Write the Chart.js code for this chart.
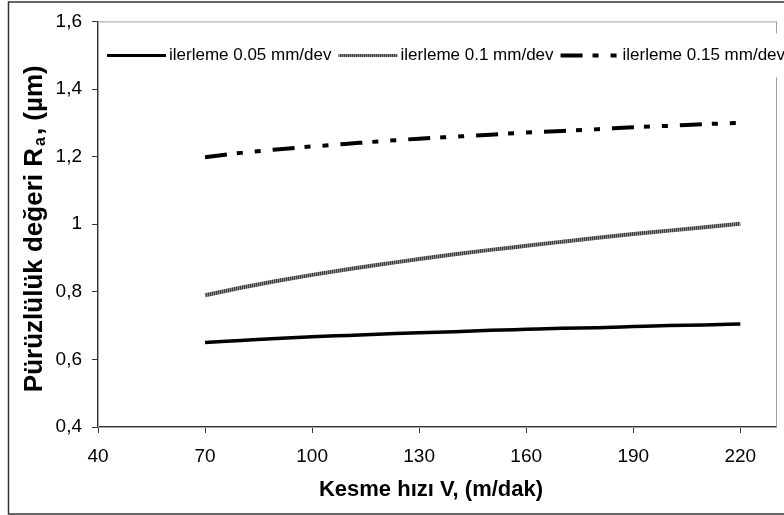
<!DOCTYPE html>
<html>
<head>
<meta charset="utf-8">
<script src="https://cdn.jsdelivr.net/npm/chart.js@4.4.1/dist/chart.umd.min.js"></script>
<style>
  html, body { margin: 0; padding: 0; background: #fff; }
  #wrap { width: 784px; height: 515px; }
</style>
</head>
<body>
<div id="wrap"><canvas id="roughChart"></canvas></div>
<script>
// values
const speeds = [70, 80, 90, 100, 110, 120, 130, 140, 150, 160, 170, 180, 190, 200, 210, 220];
const feed005 = [0.650, 0.656, 0.662, 0.667, 0.671, 0.675, 0.679, 0.682, 0.686, 0.689, 0.692, 0.694, 0.697, 0.700, 0.702, 0.705];
const feed010 = [0.790, 0.812, 0.832, 0.850, 0.867, 0.882, 0.897, 0.911, 0.924, 0.936, 0.948, 0.960, 0.971, 0.981, 0.991, 1.001];
const feed015 = [1.198, 1.211, 1.221, 1.230, 1.238, 1.246, 1.253, 1.259, 1.265, 1.271, 1.276, 1.281, 1.287, 1.291, 1.296, 1.300];
const seriesLabels = ["ilerleme 0.05 mm/dev", "ilerleme 0.1 mm/dev", "ilerleme 0.15 mm/dev"];
const xTicks = [40, 70, 100, 130, 160, 190, 220];
const yTicks = [0.4, 0.6, 0.8, 1, 1.2, 1.4, 1.6];
const xTitle = "Kesme hızı V, (m/dak)";
const yTitle = ["Pürüzlülük değeri R", "a", ", (µm)"]; // "a" is the subscript

document.addEventListener("DOMContentLoaded", function () {
  const canvas = document.getElementById("roughChart");
  const ctx = canvas.getContext("2d");

  // striped grey like the reference's middle line
  const stripe = document.createElement("canvas");
  stripe.width = 2;
  stripe.height = 2;
  const sctx = stripe.getContext("2d");
  sctx.fillStyle = "#3c3c3c";
  sctx.fillRect(0, 0, 1, 2);
  sctx.fillStyle = "#8c8c8c";
  sctx.fillRect(1, 0, 1, 2);
  const greyStripe = ctx.createPattern(stripe, "repeat");

  const toPoints = (ys) => speeds.map((x, i) => ({ x: x, y: ys[i] }));
  const fontFamily = "'Liberation Sans', Arial, sans-serif";

  // plot frame, outer frame, axis titles and the legend inside the plot
  const framePlugin = {
    id: "frames",
    beforeDatasetsDraw(chart) {
      const a = chart.chartArea;
      const c = chart.ctx;
      c.save();
      c.strokeStyle = "#a0a0a0";
      c.lineWidth = 1;
      c.strokeRect(a.left + 0.5, a.top + 0.5, a.right - a.left, a.bottom - a.top);
      c.restore();
    },
    afterDraw(chart) {
      const a = chart.chartArea;
      const c = chart.ctx;
      c.save();
      // outer chart border
      c.strokeStyle = "#333";
      c.lineWidth = 1.5;
      c.strokeRect(8.5, 2, chart.width + 10, chart.height - 3);

      // x title
      c.fillStyle = "#000";
      c.textBaseline = "middle";
      c.textAlign = "center";
      c.font = "bold 22px " + fontFamily;
      c.fillText(xTitle, (a.left + a.right) / 2 - 6, 490);

      // y title, rotated, with subscript
      c.save();
      c.translate(35, (a.top + a.bottom) / 2 + 5);
      c.rotate(-Math.PI / 2);
      c.textAlign = "left";
      c.textBaseline = "middle";
      const big = "bold 26px " + fontFamily;
      const small = "bold 16px " + fontFamily;
      c.font = big;
      const w0 = c.measureText(yTitle[0]).width;
      const w2 = c.measureText(yTitle[2]).width;
      c.font = small;
      const w1 = c.measureText(yTitle[1]).width + 3;
      let tx = -(w0 + w1 + w2) / 2;
      c.font = big;
      c.fillText(yTitle[0], tx, 0);
      tx += w0 + 2;
      c.font = small;
      c.fillText(yTitle[1], tx, 6);
      tx += w1 - 1;
      c.font = big;
      c.fillText(yTitle[2], tx, 0);
      c.restore();

      // legend
      const cy = a.top + 34;
      c.fillStyle = "#fff";
      c.fillRect(a.left + 3, a.top + 12, chart.width - a.left, 44);
      c.font = "17px " + fontFamily;
      c.textAlign = "left";
      c.textBaseline = "middle";
      let x = a.left + 9;
      chart.data.datasets.forEach((ds) => {
        c.beginPath();
        c.strokeStyle = ds.borderColor;
        c.lineWidth = ds.legendWidth;
        c.setLineDash(ds.borderDash || []);
        c.moveTo(x, cy);
        c.lineTo(x + 59, cy);
        c.stroke();
        c.setLineDash([]);
        c.fillStyle = "#000";
        c.fillText(ds.label, x + 62, cy);
        x += 62 + c.measureText(ds.label).width + 7;
      });
      c.restore();
    },
  };

  new Chart(canvas, {
    type: "line",
    data: {
      datasets: [
        {
          label: seriesLabels[0],
          data: toPoints(feed005),
          borderColor: "#000",
          borderWidth: 3.5,
          legendWidth: 3,
        },
        {
          label: seriesLabels[1],
          data: toPoints(feed010),
          borderColor: greyStripe,
          borderWidth: 4,
          legendWidth: 3,
        },
        {
          label: seriesLabels[2],
          data: toPoints(feed015),
          borderColor: "#000",
          borderWidth: 4,
          legendWidth: 4,
          borderDash: [22, 10, 6, 12, 6, 12],
        },
      ],
    },
    options: {
      responsive: true,
      maintainAspectRatio: false,
      animation: false,
      layout: { padding: { top: 20, right: 8, left: 0, bottom: 0 } },
      elements: {
        point: { radius: 0 },
        line: { tension: 0.4, cubicInterpolationMode: "monotone", fill: false },
      },
      plugins: {
        legend: { display: false },
        tooltip: { enabled: false },
      },
      scales: {
        x: {
          type: "linear",
          min: 40,
          max: 230,
          afterBuildTicks: (axis) => {
            axis.ticks = xTicks.map((v) => ({ value: v }));
          },
          afterFit: (axis) => {
            axis.height = 88;
          },
          grid: { drawOnChartArea: false, tickLength: 6, color: "#333" },
          border: { color: "#333", width: 1.5 },
          ticks: { color: "#000", font: { family: fontFamily, size: 19 }, padding: 12, maxRotation: 0 },
        },
        y: {
          min: 0.4,
          max: 1.6,
          afterBuildTicks: (axis) => {
            axis.ticks = yTicks.map((v) => ({ value: v }));
          },
          afterFit: (axis) => {
            axis.width = 98;
          },
          grid: { drawOnChartArea: false, tickLength: 6, color: "#333" },
          border: { color: "#333", width: 1.5 },
          ticks: {
            color: "#000",
            font: { family: fontFamily, size: 19 },
            padding: 10,
            callback: (v) => String(Number(v.toFixed(1))).replace(".", ","),
          },
        },
      },
    },
    plugins: [framePlugin],
  });
});
</script>
</body>
</html>
